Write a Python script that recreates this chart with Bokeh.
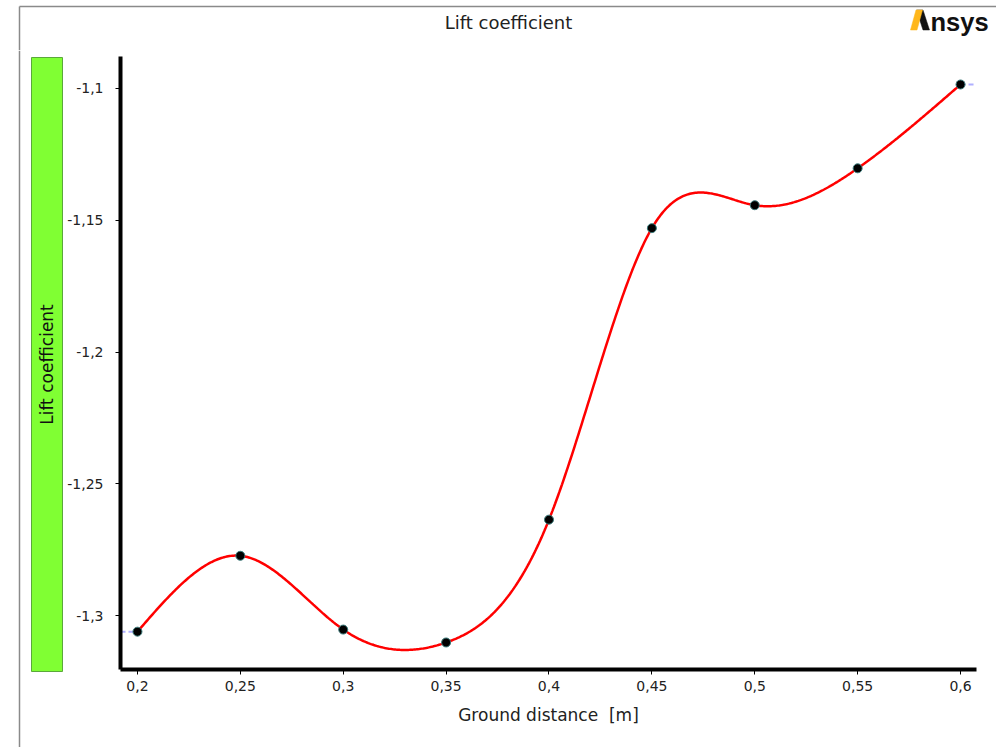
import numpy as np
from bokeh.plotting import figure
from bokeh.layouts import column, row
from bokeh.models import Range1d, FixedTicker
from bokeh.core.properties import value
from bokeh.embed import file_html
from bokeh.resources import INLINE

# ---- data ----
distance = [0.2, 0.25, 0.3, 0.35, 0.4, 0.45, 0.5, 0.55, 0.6]
lift = [-1.3061, -1.2773, -1.3053, -1.3102, -1.2636, -1.1530, -1.1443, -1.1303, -1.0985]
x_ticks = [0.2, 0.25, 0.3, 0.35, 0.4, 0.45, 0.5, 0.55, 0.6]
x_tick_labels = ["0,2", "0,25", "0,3", "0,35", "0,4", "0,45", "0,5", "0,55", "0,6"]
y_ticks = [-1.3, -1.25, -1.2, -1.15, -1.1]
y_tick_labels = ["-1,3", "-1,25", "-1,2", "-1,15", "-1,1"]
title_text = "Lift coefficient"
x_label = "Ground distance\u00a0 [m]"
legend_text = "Lift coefficient"
logo_text = "nsys"


def natural_spline(x, y, n=600):
    x = np.asarray(x, float)
    y = np.asarray(y, float)
    m = len(x)
    h = np.diff(x)
    A = np.zeros((m, m))
    b = np.zeros(m)
    A[0, 0] = 1
    A[-1, -1] = 1
    for i in range(1, m - 1):
        A[i, i - 1] = h[i - 1]
        A[i, i] = 2 * (h[i - 1] + h[i])
        A[i, i + 1] = h[i]
        b[i] = 6 * ((y[i + 1] - y[i]) / h[i] - (y[i] - y[i - 1]) / h[i - 1])
    M = np.linalg.solve(A, b)
    xs = np.linspace(x[0], x[-1], n)
    idx = np.clip(np.searchsorted(x, xs) - 1, 0, m - 2)
    x0, x1 = x[idx], x[idx + 1]
    y0, y1 = y[idx], y[idx + 1]
    M0, M1 = M[idx], M[idx + 1]
    hh = x1 - x0
    t0 = x1 - xs
    t1 = xs - x0
    ys = (M0 * t0 ** 3 + M1 * t1 ** 3) / (6 * hh) + (y0 / hh - M0 * hh / 6) * t0 + (y1 / hh - M1 * hh / 6) * t1
    return xs, ys


FONT = "DejaVu Sans"
W, H = 996, 747
TOP_H = 50
LEFT_W = 64
FRAME_GREY = "#8a8a8a"


def blank_fig(w, h):
    f = figure(width=w, height=h, output_backend="svg", toolbar_location=None,
               x_range=Range1d(0, w), y_range=Range1d(0, h),
               min_border=0, min_border_left=0, min_border_right=0,
               min_border_top=0, min_border_bottom=0)
    f.frame_align = False
    f.title.visible = False
    f.axis.visible = False
    f.grid.visible = False
    f.outline_line_color = None
    f.background_fill_color = "white"
    f.border_fill_color = "white"
    return f


# ---- top strip: frame line, title, logo ----
top = blank_fig(W, TOP_H)
top.segment(x0=[19], y0=[TOP_H - 6], x1=[W], y1=[TOP_H - 6], line_color=FRAME_GREY, line_width=1.5)
top.segment(x0=[19], y0=[TOP_H - 6], x1=[19], y1=[0], line_color=FRAME_GREY, line_width=1.5)
top.text(x=[508], y=[TOP_H - 22], text=[title_text], text_font=value(FONT),
         text_font_size="18px", text_color="#222222", text_align="center", text_baseline="middle")
# logo: two legs of the "A" plus the rest of the word
top.patch(x=[916, 922.5, 929, 922.5], y=[TOP_H - 9.5, TOP_H - 9.5, TOP_H - 29.5, TOP_H - 29.5],
          fill_color="#111111", line_color="#111111", line_width=0.5)
top.patch(x=[910, 916.5, 922, 915.5], y=[TOP_H - 29.5, TOP_H - 29.5, TOP_H - 9.5, TOP_H - 9.5],
          fill_color="#FFB71B", line_color="#FFB71B", line_width=0.5)
top.text(x=[930], y=[TOP_H - 21], text=[logo_text], text_font=value("Liberation Sans"),
         text_font_style="bold", text_font_size="25.5px", text_color="#111111",
         text_align="left", text_baseline="middle")

# ---- left strip: frame line and legend bar ----
LH = H - TOP_H
left = blank_fig(LEFT_W, LH)
left.segment(x0=[19], y0=[0], x1=[19], y1=[LH], line_color=FRAME_GREY, line_width=1.5)
left.quad(left=[31], right=[62], top=[LH - (57 - TOP_H)], bottom=[LH - (671 - TOP_H)],
          fill_color="#80ff33", line_color="#5aa83a", line_width=1)
left.text(x=[46.5], y=[LH - (364 - TOP_H)], text=[legend_text], angle=np.pi / 2,
          text_font=value(FONT), text_font_size="17px", text_color="#111111",
          text_align="center", text_baseline="middle")

# ---- main plot ----
x0r, x1r = 0.19176, 0.60776
y0r, y1r = -1.32045, -1.08788

p = figure(width=W - LEFT_W, height=LH, output_backend="svg", toolbar_location=None,
           x_range=Range1d(x0r, x1r), y_range=Range1d(y0r, y1r),
           min_border_left=118 - LEFT_W, min_border_right=20, min_border_top=56 - TOP_H,
           min_border_bottom=78)
p.title.visible = False
p.outline_line_color = None
p.xgrid.visible = False
p.ygrid.visible = False
p.background_fill_color = "white"
p.border_fill_color = "white"

for ax in (p.xaxis[0], p.yaxis[0]):
    ax.axis_line_width = 4
    ax.axis_line_color = "black"
    ax.major_tick_in = 0
    ax.major_tick_out = 5
    ax.major_tick_line_color = "black"
    ax.minor_tick_line_color = None
    ax.major_label_text_font = FONT
    ax.major_label_text_font_size = "14px"
    ax.major_label_text_color = "#222222"

p.xaxis.ticker = FixedTicker(ticks=x_ticks)
p.xaxis.major_label_overrides = dict(zip(x_ticks, x_tick_labels))
p.xaxis.major_label_standoff = 6
p.xaxis.axis_label = x_label
p.xaxis.axis_label_text_font = FONT
p.xaxis.axis_label_text_font_size = "17px"
p.xaxis.axis_label_text_font_style = "normal"
p.xaxis.axis_label_text_color = "#222222"
p.xaxis.axis_label_standoff = 11

p.yaxis.ticker = FixedTicker(ticks=y_ticks)
p.yaxis.major_label_overrides = dict(zip(y_ticks, y_tick_labels))
p.yaxis.major_label_standoff = 12

# extrapolation dashes at the ends
p.segment(x0=[x0r], y0=[lift[0]], x1=[distance[0]], y1=[lift[0]],
          line_color="#b0b0ff", line_width=2, line_dash="5 3")
p.segment(x0=[distance[-1]], y0=[lift[-1]], x1=[x1r], y1=[lift[-1]],
          line_color="#b0b0ff", line_width=2, line_dash="5 3")

xs, ys = natural_spline(distance, lift)
p.line(xs, ys, line_color="#ff0000", line_width=2.5)
p.scatter(distance, lift, size=9, fill_color="black", line_color="#3a7a7a", line_width=1)

layout = column(top, row(left, p, spacing=0), spacing=0)

open("out.html", "w").write(file_html(layout, INLINE))
